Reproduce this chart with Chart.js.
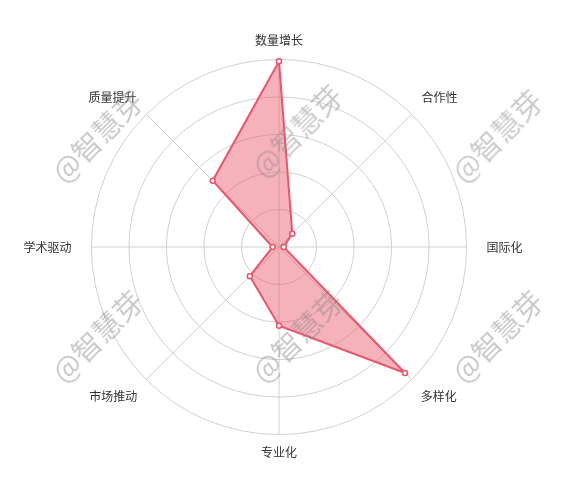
<!DOCTYPE html>
<html>
<head>
<meta charset="utf-8">
<script src="https://cdn.jsdelivr.net/npm/chart.js@4"></script>
<style>
html,body{margin:0;padding:0;background:#fff;}
#wrap{position:relative;width:561px;height:487px;overflow:hidden;}
canvas{position:absolute;left:0;top:0;}
.wm{position:absolute;font-family:"Noto Sans CJK SC",sans-serif;font-size:29px;color:rgba(130,130,130,0.42);white-space:nowrap;transform:translate(-50%,-50%) rotate(-45deg);pointer-events:none;}
</style>
</head>
<body>
<div id="wrap">
<canvas id="c" width="561" height="487"></canvas>
</div>
<script>
const categories = ["数量增长","合作性","国际化","多样化","专业化","市场推动","学术驱动","质量提升"];
const values = [99, 10, 2.5, 95, 42, 22, 3.4, 50];
const watermarkText = "@智慧芽";
const watermarkSpots = [[96,135],[296,130],[496,135],[96,335],[296,335],[496,335]];

const wrap = document.getElementById('wrap');
watermarkSpots.forEach(p => {
  const d = document.createElement('div');
  d.className = 'wm';
  d.textContent = watermarkText;
  d.style.left = p[0] + 'px';
  d.style.top = p[1] + 'px';
  wrap.appendChild(d);
});

const labelPad = [12, 14, 20, 13, 10.5, 13, 20, 14];

new Chart(document.getElementById('c'), {
  type: 'radar',
  data: {
    labels: categories,
    datasets: [{
      data: values,
      borderColor: 'rgb(236,84,104)',
      backgroundColor: 'rgba(236,84,104,0.45)',
      borderWidth: 2,
      pointRadius: 2.5,
      pointBorderWidth: 1.5,
      pointBackgroundColor: '#fff',
      pointBorderColor: 'rgb(236,84,104)',
      fill: true
    }]
  },
  options: {
    responsive: false,
    animation: false,
    layout: {padding: {top: 33, bottom: 26, left: 0, right: 6}},
    plugins: {legend: {display: false}, tooltip: {enabled: false}},
    scales: {
      r: {
        min: 0, max: 100,
        ticks: {display: false, stepSize: 20},
        grid: {circular: true, color: '#d0d0d0'},
        angleLines: {color: '#d0d0d0'},
        pointLabels: {
          padding: ctx => labelPad[ctx.index],
          font: {size: 12, family: '"Noto Sans CJK SC", sans-serif'},
          color: '#333'
        }
      }
    }
  }
});
</script>
</body>
</html>
